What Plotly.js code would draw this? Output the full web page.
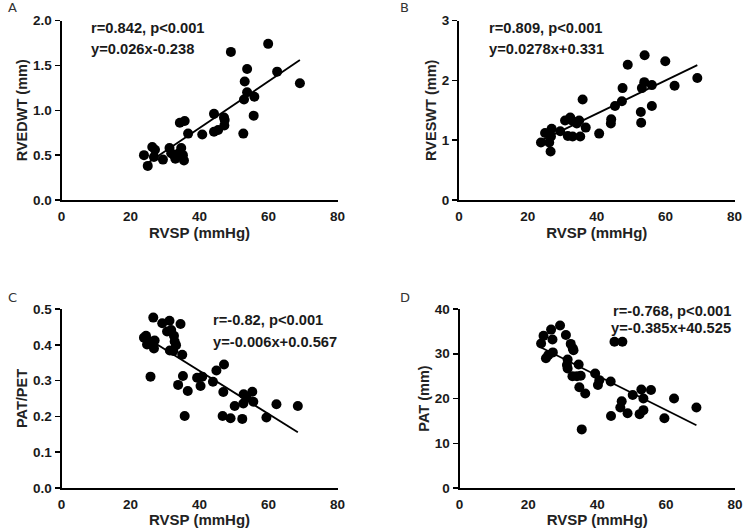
<!DOCTYPE html>
<html>
<head>
<meta charset="utf-8">
<script src="https://cdn.plot.ly/plotly-3.0.1.min.js"></script>
<style>html,body{margin:0;padding:0;background:#fff;}#chart{width:744px;height:528px;}</style>
</head>
<body>
<div id="chart"></div>
<script>
// Panel A: RVEDWT vs RVSP
const rvspA = [23.9,25.0,26.3,27.1,26.8,29.4,31.3,31.8,32.6,33.0,34.0,34.7,35.2,35.5,34.3,35.7,36.7,40.8,44.2,44.2,45.4,47.1,47.3,47.2,49.1,52.7,52.9,53.1,53.8,53.8,55.9,55.7,59.9,62.5,69.1];
const rvedwt = [0.50,0.38,0.59,0.56,0.48,0.45,0.58,0.52,0.50,0.46,0.52,0.58,0.50,0.44,0.86,0.88,0.74,0.73,0.96,0.76,0.78,0.92,0.89,0.83,1.65,0.74,1.12,1.32,1.46,1.20,1.15,0.94,1.74,1.43,1.30];
// Panel B: RVESWT vs RVSP
const rvspB = [23.8,25.0,26.2,26.9,26.7,26.6,29.4,30.8,32.3,32.8,31.6,33.0,34.2,34.9,35.2,35.9,36.8,40.7,44.2,44.1,45.3,47.3,47.5,49.0,52.8,52.9,53.1,53.8,53.9,56.0,56.0,59.9,62.6,69.2];
const rveswt = [0.96,1.12,0.96,1.19,1.06,0.81,1.15,1.33,1.38,1.33,1.07,1.06,1.28,1.33,1.06,1.68,1.21,1.11,1.35,1.28,1.57,1.65,1.87,2.26,1.47,1.29,1.87,1.97,2.42,1.92,1.57,2.32,1.91,2.04];
// Panel C: PAT/PET vs RVSP
const rvspC = [23.9,24.5,24.8,25.8,27.0,26.8,25.8,26.6,29.2,31.3,30.6,31.8,32.6,32.8,33.2,31.4,32.4,34.5,35.0,35.2,33.8,36.6,35.7,39.3,40.3,40.8,43.9,44.9,47.1,46.9,46.7,49.0,50.2,52.4,52.7,52.8,53.6,55.3,55.6,59.4,62.3,68.5];
const patPet = [0.420,0.425,0.401,0.409,0.412,0.390,0.311,0.476,0.460,0.467,0.437,0.441,0.425,0.409,0.399,0.384,0.383,0.458,0.372,0.313,0.288,0.271,0.201,0.308,0.285,0.311,0.297,0.328,0.345,0.268,0.201,0.195,0.229,0.193,0.236,0.262,0.255,0.269,0.241,0.197,0.234,0.229];
// Panel D: PAT vs RVSP
const rvspD = [23.7,24.4,25.1,25.8,26.6,27.0,27.1,29.2,30.9,31.4,31.2,31.4,32.3,32.9,33.1,32.8,34.1,34.6,35.2,34.8,36.5,35.5,39.4,40.2,40.6,43.9,44.0,45.0,47.3,47.1,46.7,48.8,50.3,52.8,53.4,52.3,53.4,55.6,59.5,62.3,68.8];
const pat = [32.3,34.0,29.0,29.7,35.4,33.2,30.3,36.3,34.2,28.7,27.5,26.7,32.2,31.2,30.8,25.0,25.0,27.6,25.1,22.5,21.1,13.1,25.6,23.0,24.1,23.8,16.1,32.7,32.7,19.4,18.0,16.7,20.8,22.0,20.0,16.5,17.4,21.9,15.6,20.0,18.0];

// Regression equations
const slopes = [0.026, 0.0278, -0.006, -0.385];
const intercepts = [-0.238, 0.331, 0.567, 40.525];
const statTexts = ["r=0.842, p<0.001", "r=0.809, p<0.001", "r=-0.82, p<0.001", "r=-0.768, p<0.001"];
const eqTexts = ["y=0.026x-0.238", "y=0.0278x+0.331", "y=-0.006x+0.0.567", "y=-0.385x+40.525"];
const yTitles = ["RVEDWT (mm)", "RVESWT (mm)", "PAT/PET", "PAT (mm)"];
const xTitle = "RVSP (mmHg)";
const panelLetters = ["A", "B", "C", "D"];

const xs = [rvspA, rvspB, rvspC, rvspD];
const ys = [rvedwt, rveswt, patPet, pat];

const W = 744, H = 528;
const FONT = "Liberation Sans, Arial, sans-serif";
const TXT = "#1a1a1a";

// pixel geometry of each panel: [left, right, top, bottom]
const boxes = [[61.5, 337.5, 20.5, 200], [459, 734.5, 20.5, 200], [61.5, 337.5, 309, 488], [459.5, 735, 309, 488]];
const yRanges = [[0, 2], [0, 3], [0, 0.5], [0, 40]];
const yDticks = [0.5, 1, 0.1, 10];
const yFormats = [".1f", "d", ".1f", "d"];

const traces = [];
const layout = {
  width: W, height: H,
  margin: {l: 0, r: 0, t: 0, b: 0},
  paper_bgcolor: "#fff", plot_bgcolor: "rgba(0,0,0,0)",
  showlegend: false,
  font: {family: FONT, color: TXT},
  annotations: []
};

for (let i = 0; i < 4; i++) {
  const sfx = i === 0 ? "" : String(i + 1);
  const xa = "x" + sfx, ya = "y" + sfx;
  traces.push({
    type: "scatter", mode: "markers", x: xs[i], y: ys[i], xaxis: xa, yaxis: ya,
    marker: {color: "#000", size: 10, line: {width: 0}}, cliponaxis: false, hoverinfo: "skip"
  });
  const xmin = Math.min(...xs[i]), xmax = Math.max(...xs[i]);
  traces.push({
    type: "scatter", mode: "lines", x: [xmin, xmax],
    y: [slopes[i] * xmin + intercepts[i], slopes[i] * xmax + intercepts[i]],
    xaxis: xa, yaxis: ya, line: {color: "#000", width: 1.8}, hoverinfo: "skip"
  });
  const b = boxes[i];
  layout["xaxis" + sfx] = {
    domain: [b[0] / W, b[1] / W], range: [0, 80], anchor: ya,
    showgrid: false, zeroline: false, showline: true, linecolor: "#000", linewidth: 2,
    tickmode: "linear", tick0: 0, dtick: 20, ticks: "", ticklabelstandoff: 3,
    tickfont: {family: FONT, size: 13.5, color: TXT, weight: "bold"},
    title: {text: xTitle, font: {family: FONT, size: 15, color: "#222", weight: "bold"}, standoff: 1},
    automargin: false, fixedrange: true
  };
  layout["yaxis" + sfx] = {
    domain: [1 - b[3] / H, 1 - b[2] / H], range: yRanges[i], anchor: xa,
    showgrid: false, zeroline: false, showline: true, linecolor: "#000", linewidth: 2,
    tickmode: "linear", tick0: 0, dtick: yDticks[i], tickformat: yFormats[i],
    ticks: "outside", ticklen: 5, tickwidth: 1.5, tickcolor: "#000", ticklabelstandoff: 0,
    tickfont: {family: FONT, size: 13.5, color: TXT, weight: "bold"},
    title: {text: yTitles[i], font: {family: FONT, size: 14.5, color: "#222", weight: "bold"}, standoff: 2},
    automargin: false, fixedrange: true
  };
}

// stats annotations (paper pixel positions)
const statPos = [
  {x: 89, y1: 28, y2: 49, anchor: "left"},
  {x: 487, y1: 28, y2: 49, anchor: "left"},
  {x: 211, y1: 320, y2: 342, anchor: "left"},
  {x: 733, y1: 311, y2: 328, anchor: "right"}
];
for (let i = 0; i < 4; i++) {
  const p = statPos[i];
  [[statTexts[i], p.y1], [eqTexts[i], p.y2]].forEach(([t, yy]) => {
    layout.annotations.push({
      xref: "paper", yref: "paper", x: p.x / W, y: 1 - yy / H, text: t, showarrow: false,
      xanchor: p.anchor, yanchor: "middle",
      font: {family: FONT, size: 14.7, color: TXT, weight: "bold"}
    });
  });
}
// panel letters
const letterPos = [[13, 8], [404, 8], [12, 297], [405, 297]];
for (let i = 0; i < 4; i++) {
  layout.annotations.push({
    xref: "paper", yref: "paper", x: letterPos[i][0] / W, y: 1 - letterPos[i][1] / H,
    text: panelLetters[i], showarrow: false, xanchor: "center", yanchor: "middle",
    font: {family: "DejaVu Sans, sans-serif", size: 13, color: "#333"}
  });
}

Plotly.newPlot("chart", traces, layout, {staticPlot: true, displayModeBar: false});
</script>
</body>
</html>
